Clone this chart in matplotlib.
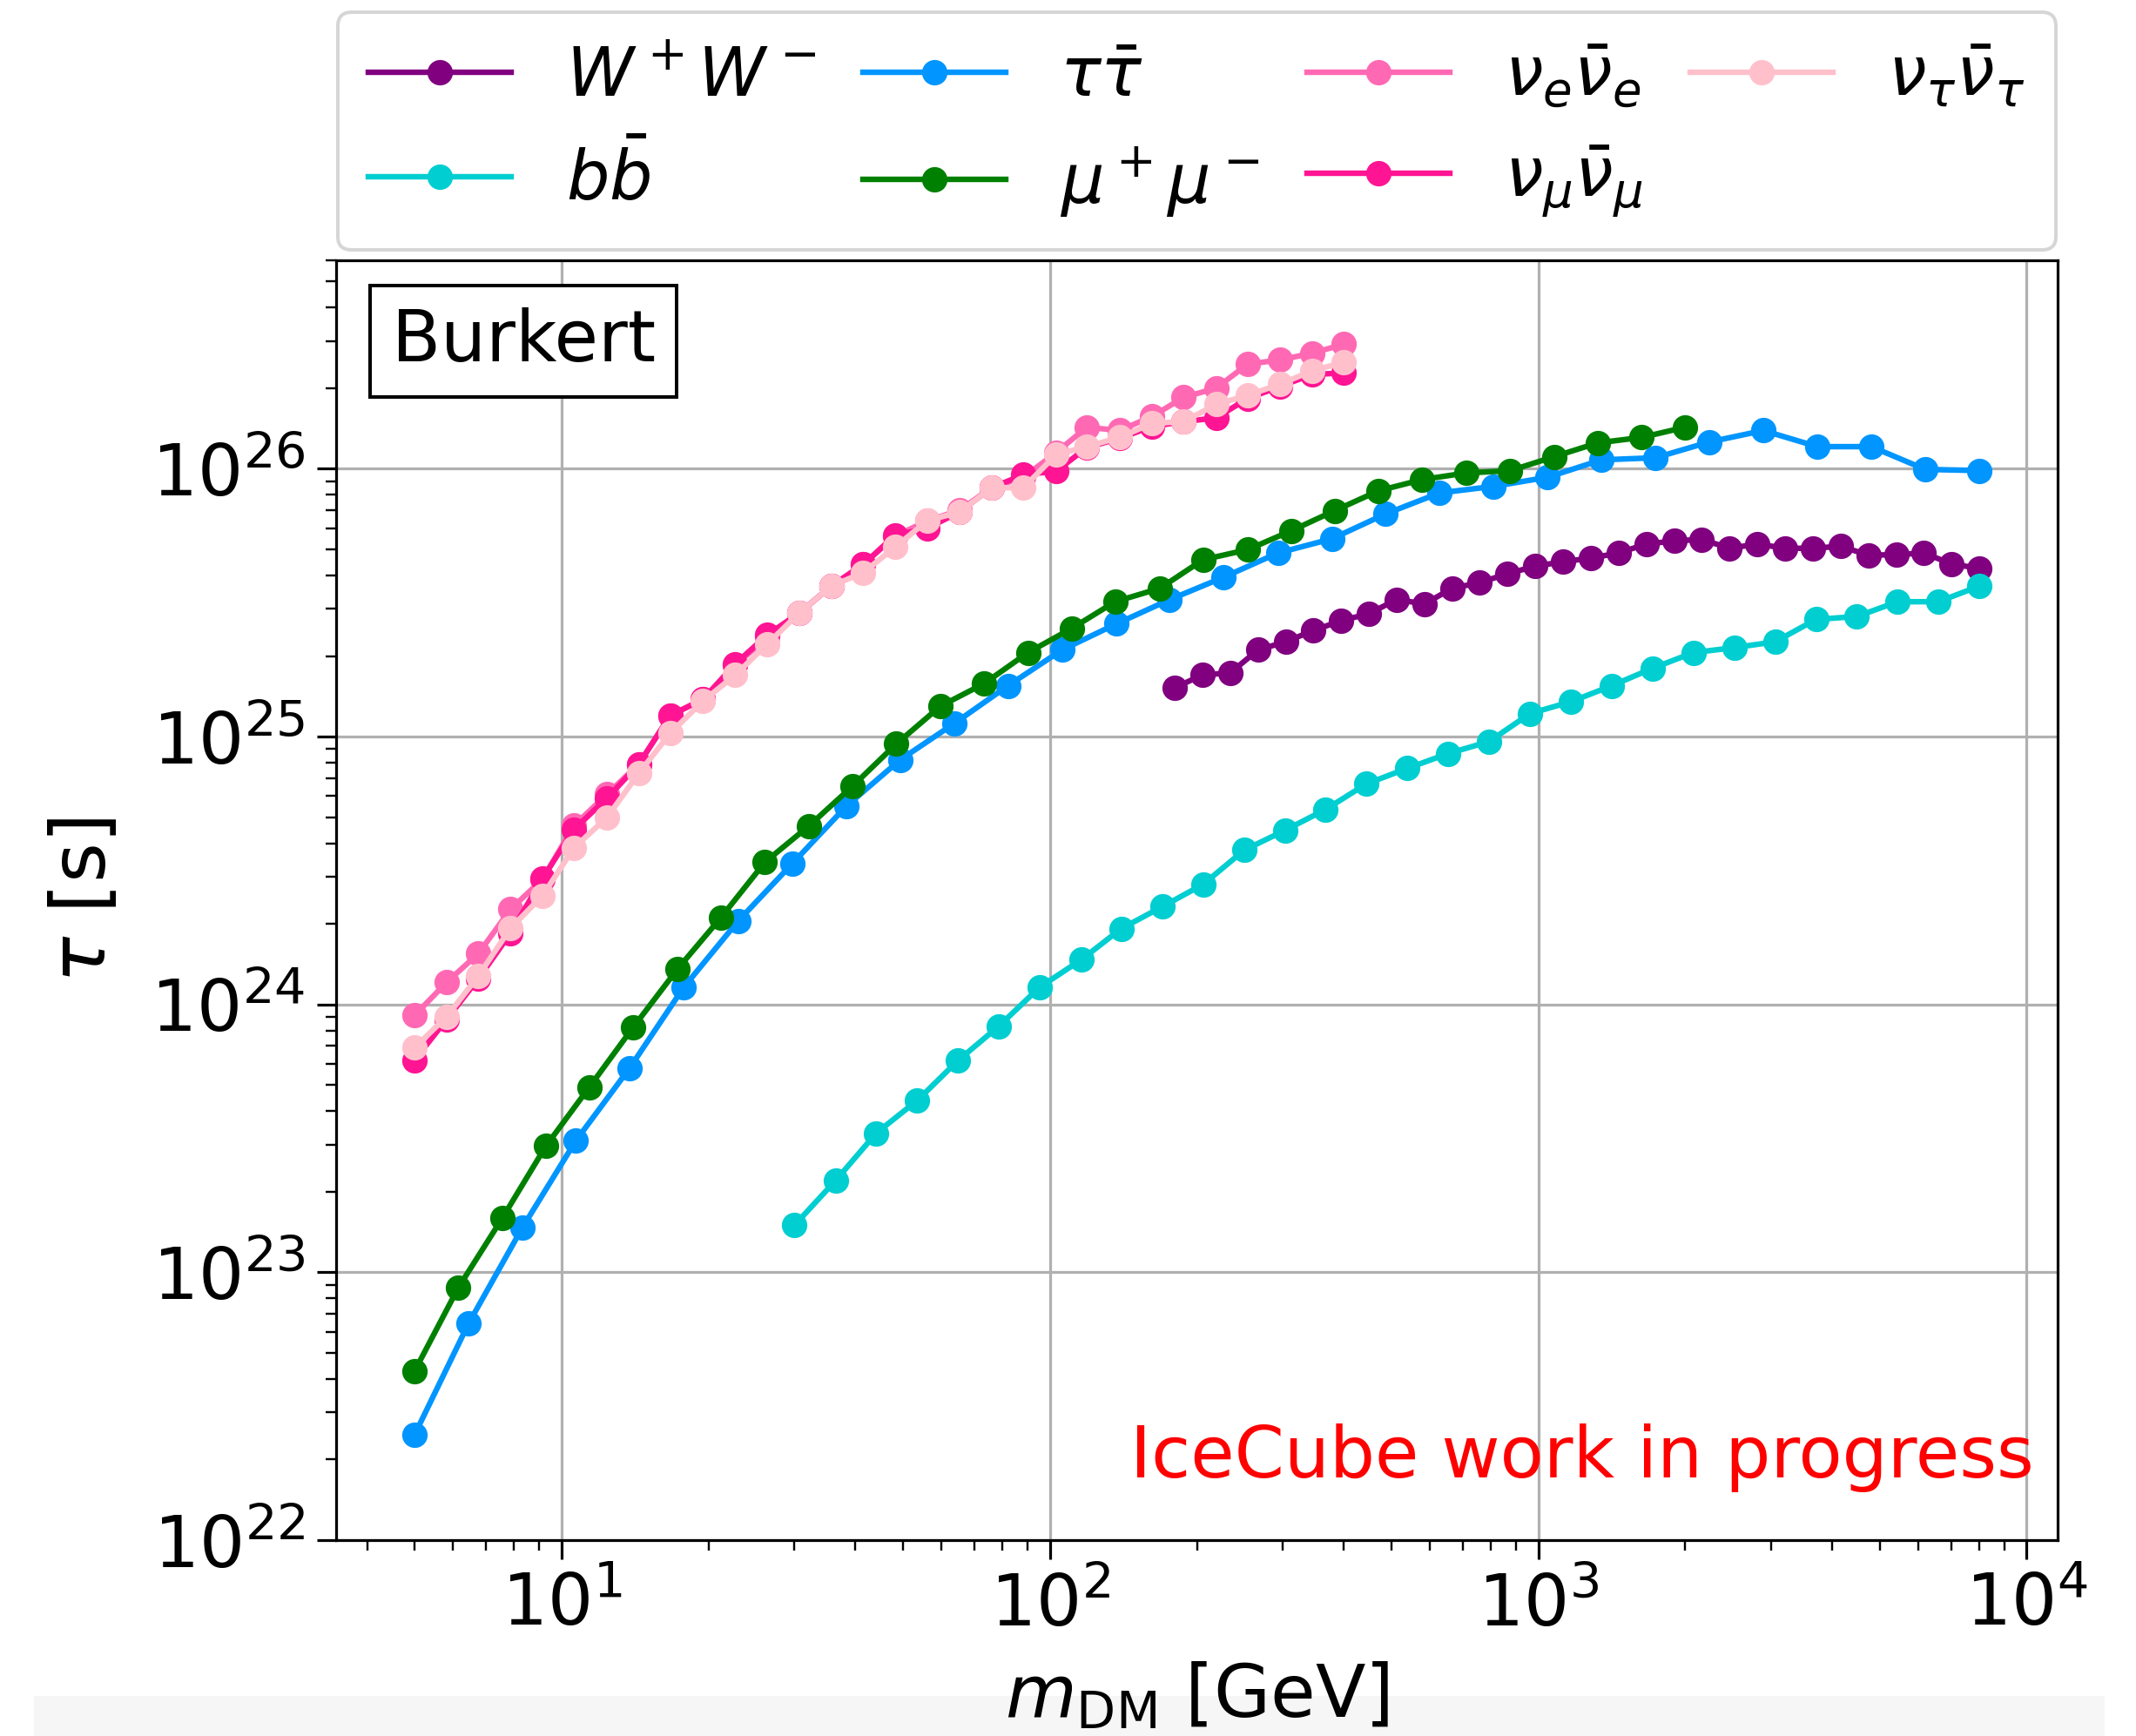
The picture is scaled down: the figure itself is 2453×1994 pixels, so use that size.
import matplotlib
matplotlib.use("Agg")
import matplotlib.pyplot as plt
from matplotlib.patches import Rectangle

plt.rcParams['font.size'] = 20.5

# dark matter masses [GeV] for each channel
m_ww = [180, 205, 234, 267, 304, 346, 395, 450, 513, 585, 666, 759, 865, 986, 1124,
        1281, 1460, 1665, 1897, 2162, 2465, 2809, 3202, 3650, 4160, 4742, 5405, 6161, 7022, 8000]
m_bb = [30, 36.4, 44.1, 53.5, 64.8, 78.6, 95.3, 116, 140, 170, 206, 250, 303, 367, 445,
        540, 654, 793, 962, 1166, 1414, 1714, 2078, 2520, 3054, 3704, 4490, 5443, 6599, 8000]
m_tau = [5.0, 6.45, 8.32, 10.7, 13.8, 17.8, 23.0, 29.7, 38.3, 49.4, 63.7, 82.1, 106, 137, 176,
         227, 293, 378, 487, 628, 810, 1045, 1347, 1738, 2241, 2890, 3727, 4807, 6200, 8000]
m_mu = [5.0, 6.15, 7.56, 9.29, 11.4, 14.0, 17.3, 21.2, 26.1, 32.1, 39.5, 48.5, 59.7, 73.4, 90.2,
        111, 136, 168, 206, 254, 312, 383, 471, 579, 712, 876, 1077, 1324, 1628, 2000]
m_nu = [5.0, 5.82, 6.76, 7.87, 9.15, 10.6, 12.4, 14.4, 16.7, 19.5, 22.7, 26.4, 30.7, 35.7, 41.5,
        48.2, 56.1, 65.3, 75.9, 88.3, 103, 119, 139, 162, 188, 219, 254, 296, 344, 400]

# lifetime limits [s]
tau_ww = [1.52e25, 1.70e25, 1.73e25, 2.11e25, 2.26e25, 2.49e25, 2.71e25, 2.88e25, 3.25e25, 3.13e25,
          3.58e25, 3.76e25, 4.06e25, 4.33e25, 4.50e25, 4.64e25, 4.85e25, 5.24e25, 5.38e25, 5.45e25,
          5.05e25, 5.24e25, 5.05e25, 5.05e25, 5.14e25, 4.76e25, 4.78e25, 4.85e25, 4.41e25, 4.25e25]
tau_bb = [1.50e23, 2.20e23, 3.31e23, 4.38e23, 6.17e23, 8.30e23, 1.16e24, 1.47e24, 1.92e24, 2.32e24,
          2.81e24, 3.77e24, 4.47e24, 5.35e24, 6.67e24, 7.62e24, 8.65e24, 9.59e24, 1.22e25, 1.35e25,
          1.55e25, 1.80e25, 2.06e25, 2.15e25, 2.26e25, 2.74e25, 2.81e25, 3.19e25, 3.19e25, 3.65e25]
tau_tautau = [2.47e22, 6.43e22, 1.47e23, 3.10e23, 5.80e23, 1.16e24, 2.05e24, 3.36e24, 5.50e24, 8.20e24,
              1.12e25, 1.55e25, 2.11e25, 2.64e25, 3.25e25, 3.94e25, 4.85e25, 5.48e25, 6.79e25, 8.13e25,
              8.60e25, 9.30e25, 1.08e26, 1.10e26, 1.26e26, 1.39e26, 1.21e26, 1.21e26, 9.95e25, 9.85e25]
tau_mumu = [4.27e22, 8.77e22, 1.59e23, 2.96e23, 4.91e23, 8.19e23, 1.36e24, 2.11e24, 3.40e24, 4.64e24,
            6.55e24, 9.40e24, 1.30e25, 1.58e25, 2.06e25, 2.54e25, 3.19e25, 3.58e25, 4.58e25, 4.99e25,
            5.87e25, 6.98e25, 8.28e25, 9.12e25, 9.65e25, 9.84e25, 1.11e26, 1.25e26, 1.31e26, 1.43e26]
tau_nue = [9.1e23, 1.21e24, 1.55e24, 2.27e24, 2.94e24, 4.65e24, 6.1e24, 7.9e24, 1.2e25, 1.38e25,
           1.85e25, 2.35e25, 2.9e25, 3.65e25, 4.4e25, 5.6e25, 6.4e25, 7.0e25, 8.5e25, 9.3e25,
           1.15e26, 1.43e26, 1.39e26, 1.57e26, 1.85e26, 2.0e26, 2.46e26, 2.55e26, 2.7e26, 2.92e26]
tau_numu = [6.2e23, 8.8e23, 1.25e24, 1.85e24, 2.96e24, 4.5e24, 5.9e24, 7.9e24, 1.2e25, 1.38e25,
            1.87e25, 2.4e25, 2.9e25, 3.65e25, 4.4e25, 5.65e25, 6.0e25, 6.9e25, 8.5e25, 9.5e25,
            9.8e25, 1.2e26, 1.3e26, 1.44e26, 1.5e26, 1.55e26, 1.83e26, 2.03e26, 2.25e26, 2.28e26]
tau_nutau = [6.9e23, 9.0e23, 1.28e24, 1.93e24, 2.55e24, 3.84e24, 5.0e24, 7.3e24, 1.03e25, 1.36e25,
             1.70e25, 2.22e25, 2.9e25, 3.65e25, 4.1e25, 5.1e25, 6.4e25, 6.9e25, 8.5e25, 8.5e25,
             1.13e26, 1.21e26, 1.31e26, 1.48e26, 1.5e26, 1.74e26, 1.88e26, 2.07e26, 2.32e26, 2.5e26]

fig = plt.figure(figsize=(2453 / 288, 1994 / 288), dpi=288)
fig.add_artist(Rectangle((0.016, 0.0), 0.9695, 0.023, transform=fig.transFigure,
                         facecolor='#f6f6f6', edgecolor='none', zorder=-1))
ax = fig.add_axes([0.1574, 0.1128, 0.8059, 0.7372])

kw = dict(marker='o', markersize=6.3, linewidth=1.6)
ax.plot(m_ww, tau_ww, color='purple', label=r'$W^+W^-$', **kw)
ax.plot(m_bb, tau_bb, color='darkturquoise', label=r'$b\bar{b}$', **kw)
ax.plot(m_tau, tau_tautau, color='#0095ff', label=r'$\tau\bar{\tau}$', **kw)
ax.plot(m_mu, tau_mumu, color='green', label=r'$\mu^+\mu^-$', **kw)
ax.plot(m_nu, tau_nue, color='hotpink', label=r'$\nu_e\bar{\nu}_e$', **kw)
ax.plot(m_nu, tau_numu, color='deeppink', label=r'$\nu_\mu\bar{\nu}_\mu$', **kw)
ax.plot(m_nu, tau_nutau, color='pink', label=r'$\nu_\tau\bar{\nu}_\tau$', **kw)

ax.set_xscale('log')
ax.set_yscale('log')
ax.set_ylim(1e22, 6e26)
ax.grid(True, which='major')
ax.tick_params(which='major', length=5.5)
ax.tick_params(which='minor', length=3)

ax.set_xlabel(r'$m_{\rm DM}$ [GeV]', fontsize=21)
ax.set_ylabel(r'$\tau$ [s]', fontsize=22)
ax.xaxis.set_label_coords(0.5, -0.094)
ax.yaxis.set_label_coords(-0.125, 0.5)

ax.text(0.0322, 0.9635, 'Burkert', transform=ax.transAxes, ha='left', va='top',
        bbox=dict(boxstyle='square,pad=0.3', facecolor='white', edgecolor='black'))
ax.text(0.986, 0.049, 'IceCube work in progress', transform=ax.transAxes,
        ha='right', va='baseline', color='red')

ax.legend(loc='lower center', bbox_to_anchor=(0.5, 1.0), ncol=4, borderaxespad=0.15,
          fontsize=19.5, handlelength=2.1, handletextpad=0.8, columnspacing=0.7,
          borderpad=0.45)

fig.savefig('out.png', dpi=288)
